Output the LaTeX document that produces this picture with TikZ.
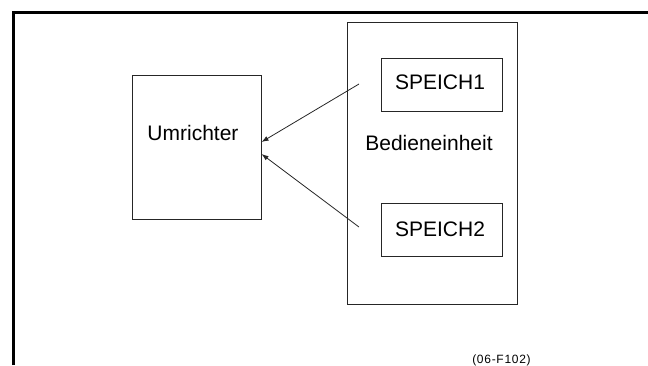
\documentclass[tikz,border=0pt]{standalone}
\usepackage{fontspec}
\setmainfont{Liberation Sans}
\usetikzlibrary{arrows.meta}
\begin{document}
\begin{tikzpicture}[x=1pt,y=-1pt,
  box/.style={draw=black!85,line width=1pt,inner sep=0pt},
  lbl/.style={font=\fontsize{21}{25}\selectfont,inner sep=0pt,anchor=base},
  arr/.style={draw=black!85,line width=0.8pt,-{Latex[length=7pt,width=5pt]}}]
\useasboundingbox (0,0) rectangle (648,365);
\draw[line width=3pt] (13.5,365) -- (13.5,12.5) -- (648,12.5);
\node[box,minimum width=129pt,minimum height=144pt] (umr) at (196.5,147) {};
\node[lbl] (umrt) at (193,140) {Umrichter};
\node[box,minimum width=170pt,minimum height=282pt] (bed) at (432,163) {};
\node[lbl] (bedt) at (429,150) {Bedieneinheit};
\node[box,minimum width=121pt,minimum height=53pt] (sp1) at (441.5,84.5) {};
\node[lbl] (sp1t) at (440,89) {SPEICH1};
\node[box,minimum width=121pt,minimum height=53pt] (sp2) at (441.5,229.5) {};
\node[lbl] (sp2t) at (440,236.7) {SPEICH2};
\coordinate (s1) at (359,84);
\coordinate (s2) at (359,227);
\draw[arr] (s1) -- ([yshift=5pt]umr.east);
\draw[arr] (s2) -- ([yshift=-7pt]umr.east);
\node[font=\fontsize{12}{14}\selectfont\addfontfeature{LetterSpace=6},inner sep=0pt,anchor=base] (fig) at (501.5,363) {(06-F102)};
\end{tikzpicture}
\end{document}
